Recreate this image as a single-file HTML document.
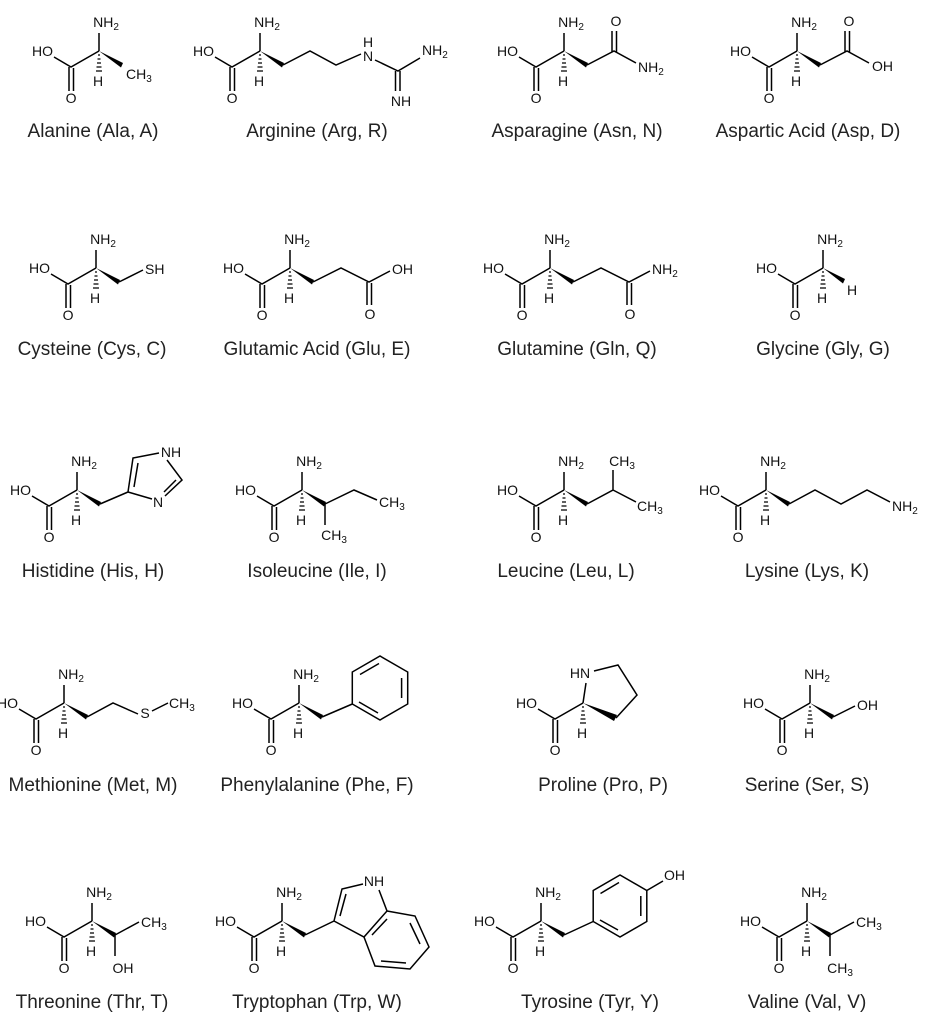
<!DOCTYPE html>
<html><head><meta charset="utf-8"><style>
html,body{margin:0;padding:0;background:#fff;}
svg{display:block;}
text{font-family:"Liberation Sans",sans-serif;font-size:14px;fill:#111;}
.lb{font-size:19px;fill:#222;text-anchor:middle;}
.m{text-anchor:middle;}
.s{font-size:10px;}
path,line{stroke:#000;stroke-width:1.5;fill:none;}
polygon{fill:#000;stroke:none;}
</style></head><body>
<svg width="931" height="1023" viewBox="0 0 931 1023" xmlns="http://www.w3.org/2000/svg">
<defs>
<g id="core">
<path d="M0,0 L-28,16 L-45,6 M-30,16 V40 M-25.5,17 V40"/>
<path d="M-1,4 h2 M-1.5,8 h3 M-2,12 h4 M-2.5,16 h5 M-3,20 h6" style="stroke-width:1.3"/>
</g>
<g id="bb">
<use href="#core"/>
<path d="M0,0 V-18"/>
<polygon points="0,0 24,12 22,16.5"/>
</g>
</defs>

<!-- Row 1 -->
<g transform="translate(99,51)"><use href="#bb"/>
<text x="7" y="-24" class="m">NH<tspan class="s" dy="3">2</tspan></text>
<text x="-46" y="5" text-anchor="end">HO</text><text x="-1" y="35" class="m">H</text><text x="-28" y="52" class="m">O</text>
<text x="27" y="28">CH<tspan class="s" dy="3">3</tspan></text></g>

<g transform="translate(260,51)"><use href="#bb"/>
<text x="7" y="-24" class="m">NH<tspan class="s" dy="3">2</tspan></text>
<text x="-46" y="5" text-anchor="end">HO</text><text x="-1" y="35" class="m">H</text><text x="-28" y="52" class="m">O</text>
<path d="M23,14 L50,0 L76,14 L101,3 M115,9 L138,20 L160,7 M135.5,20 V40 M140,20 V40"/>
<text x="108" y="10" class="m">N</text><text x="108" y="-4" class="m">H</text>
<text x="162" y="4">NH<tspan class="s" dy="3">2</tspan></text>
<text x="141" y="55" class="m">NH</text></g>

<g transform="translate(564,51)"><use href="#bb"/>
<text x="7" y="-24" class="m">NH<tspan class="s" dy="3">2</tspan></text>
<text x="-46" y="5" text-anchor="end">HO</text><text x="-1" y="35" class="m">H</text><text x="-28" y="52" class="m">O</text>
<path d="M23,14 L50,0 L72,12 M48,1 V-20 M52.5,1 V-20"/>
<text x="52" y="-25" class="m">O</text>
<text x="74" y="21">NH<tspan class="s" dy="3">2</tspan></text></g>

<g transform="translate(797,51)"><use href="#bb"/>
<text x="7" y="-24" class="m">NH<tspan class="s" dy="3">2</tspan></text>
<text x="-46" y="5" text-anchor="end">HO</text><text x="-1" y="35" class="m">H</text><text x="-28" y="52" class="m">O</text>
<path d="M23,14 L50,0 L72,12 M48,1 V-20 M52.5,1 V-20"/>
<text x="52" y="-25" class="m">O</text>
<text x="75" y="20">OH</text></g>

<!-- Row 2 -->
<g transform="translate(96,268)"><use href="#bb"/>
<text x="7" y="-24" class="m">NH<tspan class="s" dy="3">2</tspan></text>
<text x="-46" y="5" text-anchor="end">HO</text><text x="-1" y="35" class="m">H</text><text x="-28" y="52" class="m">O</text>
<path d="M23,14 L47,2"/><text x="49" y="6">SH</text></g>

<g transform="translate(290,268)"><use href="#bb"/>
<text x="7" y="-24" class="m">NH<tspan class="s" dy="3">2</tspan></text>
<text x="-46" y="5" text-anchor="end">HO</text><text x="-1" y="35" class="m">H</text><text x="-28" y="52" class="m">O</text>
<path d="M23,14 L51,0 L79,14 L100,3 M77,14 V37 M81.5,15 V37"/>
<text x="80" y="51" class="m">O</text><text x="102" y="6">OH</text></g>

<g transform="translate(550,268)"><use href="#bb"/>
<text x="7" y="-24" class="m">NH<tspan class="s" dy="3">2</tspan></text>
<text x="-46" y="5" text-anchor="end">HO</text><text x="-1" y="35" class="m">H</text><text x="-28" y="52" class="m">O</text>
<path d="M23,14 L51,0 L79,14 L100,3 M77,14 V37 M81.5,15 V37"/>
<text x="80" y="51" class="m">O</text><text x="102" y="6">NH<tspan class="s" dy="3">2</tspan></text></g>

<g transform="translate(823,268)"><use href="#core"/><path d="M0,0 V-18"/>
<polygon points="0,0 22,11 20,15.5"/>
<text x="7" y="-24" class="m">NH<tspan class="s" dy="3">2</tspan></text>
<text x="-46" y="5" text-anchor="end">HO</text><text x="-1" y="35" class="m">H</text><text x="-28" y="52" class="m">O</text>
<text x="24" y="27">H</text></g>

<!-- Row 3 -->
<g transform="translate(77,490)"><use href="#bb"/>
<text x="7" y="-24" class="m">NH<tspan class="s" dy="3">2</tspan></text>
<text x="-46" y="5" text-anchor="end">HO</text><text x="-1" y="35" class="m">H</text><text x="-28" y="52" class="m">O</text>
<path d="M23,14 L51,2 L56,-32 L82,-37 M90,-30 L105,-10 L88,6 M75,9 L51,2 M57,-3 L61,-27 M99,-10 L87,2"/>
<text x="94" y="-33" class="m">NH</text><text x="81" y="17" class="m">N</text></g>

<g transform="translate(302,490)"><use href="#bb"/>
<text x="7" y="-24" class="m">NH<tspan class="s" dy="3">2</tspan></text>
<text x="-46" y="5" text-anchor="end">HO</text><text x="-1" y="35" class="m">H</text><text x="-28" y="52" class="m">O</text>
<path d="M23,14 V35 M23,14 L52,0 L75,10"/>
<text x="32" y="50" class="m">CH<tspan class="s" dy="3">3</tspan></text>
<text x="77" y="17">CH<tspan class="s" dy="3">3</tspan></text></g>

<g transform="translate(564,490)"><use href="#bb"/>
<text x="7" y="-24" class="m">NH<tspan class="s" dy="3">2</tspan></text>
<text x="-46" y="5" text-anchor="end">HO</text><text x="-1" y="35" class="m">H</text><text x="-28" y="52" class="m">O</text>
<path d="M23,14 L49,0 V-20 M49,0 L72,12"/>
<text x="58" y="-24" class="m">CH<tspan class="s" dy="3">3</tspan></text>
<text x="73" y="21">CH<tspan class="s" dy="3">3</tspan></text></g>

<g transform="translate(766,490)"><use href="#bb"/>
<text x="7" y="-24" class="m">NH<tspan class="s" dy="3">2</tspan></text>
<text x="-46" y="5" text-anchor="end">HO</text><text x="-1" y="35" class="m">H</text><text x="-28" y="52" class="m">O</text>
<path d="M23,14 L49,0 L75,14 L101,0 L124,12"/>
<text x="126" y="21">NH<tspan class="s" dy="3">2</tspan></text></g>

<!-- Row 4 -->
<g transform="translate(64,703)"><use href="#bb"/>
<text x="7" y="-24" class="m">NH<tspan class="s" dy="3">2</tspan></text>
<text x="-46" y="5" text-anchor="end">HO</text><text x="-1" y="35" class="m">H</text><text x="-28" y="52" class="m">O</text>
<path d="M23,14 L49,0 L74,11 M88,8 L104,0"/>
<text x="81" y="15" class="m">S</text>
<text x="105" y="5">CH<tspan class="s" dy="3">3</tspan></text></g>

<g transform="translate(299,703)"><use href="#bb"/>
<text x="7" y="-24" class="m">NH<tspan class="s" dy="3">2</tspan></text>
<text x="-46" y="5" text-anchor="end">HO</text><text x="-1" y="35" class="m">H</text><text x="-28" y="52" class="m">O</text>
<path d="M23,14 L53.3,1 M53.3,1 L53.3,-31 L81,-47 L108.7,-31 L108.7,1 L81,17 Z M61,-28.5 L80,-39.5 M102.6,-25 V-5 M79,10 L60,-1"/>
</g>

<g transform="translate(583,703)"><use href="#core"/>
<path d="M0,0 L3,-20 M11,-32 L35,-38 L54,-8 L33,15"/>
<polygon points="0,0 34,12 31,18"/>
<text x="-3" y="-25" class="m">HN</text>
<text x="-46" y="5" text-anchor="end">HO</text><text x="-1" y="35" class="m">H</text><text x="-28" y="52" class="m">O</text></g>

<g transform="translate(810,703)"><use href="#bb"/>
<text x="7" y="-24" class="m">NH<tspan class="s" dy="3">2</tspan></text>
<text x="-46" y="5" text-anchor="end">HO</text><text x="-1" y="35" class="m">H</text><text x="-28" y="52" class="m">O</text>
<path d="M23,14 L45,3"/><text x="47" y="7">OH</text></g>

<!-- Row 5 -->
<g transform="translate(92,921)"><use href="#bb"/>
<text x="7" y="-24" class="m">NH<tspan class="s" dy="3">2</tspan></text>
<text x="-46" y="5" text-anchor="end">HO</text><text x="-1" y="35" class="m">H</text><text x="-28" y="52" class="m">O</text>
<path d="M23,14 L47,1 M23,14 V35"/>
<text x="49" y="6">CH<tspan class="s" dy="3">3</tspan></text>
<text x="31" y="52" class="m">OH</text></g>

<g transform="translate(282,921)"><use href="#bb"/>
<text x="7" y="-24" class="m">NH<tspan class="s" dy="3">2</tspan></text>
<text x="-46" y="5" text-anchor="end">HO</text><text x="-1" y="35" class="m">H</text><text x="-28" y="52" class="m">O</text>
<path d="M23,14 L52,0 L60,-32 L81,-37 M97,-31 L105,-10 L82,16 L52,0 M105,-10 L133,-5 L147,26 L128,48 L93,45 L82,16 M58,-5 L64,-27 M128,2 L138,23 M124,42 L99,40 M90,14 L105,-2"/>
<text x="92" y="-35" class="m">NH</text></g>

<g transform="translate(541,921)"><use href="#bb"/>
<text x="7" y="-24" class="m">NH<tspan class="s" dy="3">2</tspan></text>
<text x="-46" y="5" text-anchor="end">HO</text><text x="-1" y="35" class="m">H</text><text x="-28" y="52" class="m">O</text>
<path d="M23,14 L52.2,0.5 M52.2,0.5 L52.2,-30.5 L79,-46 L105.8,-30.5 L105.8,0.5 L79,16 Z M59.5,-27.5 L78,-38.5 M99.8,-25 V-5 M77,9 L59,-1 M105.8,-30.5 L122,-40"/>
<text x="123" y="-41">OH</text></g>

<g transform="translate(807,921)"><use href="#bb"/>
<text x="7" y="-24" class="m">NH<tspan class="s" dy="3">2</tspan></text>
<text x="-46" y="5" text-anchor="end">HO</text><text x="-1" y="35" class="m">H</text><text x="-28" y="52" class="m">O</text>
<path d="M23,14 L47,1 M23,14 V35"/>
<text x="49" y="6">CH<tspan class="s" dy="3">3</tspan></text>
<text x="33" y="52" class="m">CH<tspan class="s" dy="3">3</tspan></text></g>

<!-- Labels -->
<text class="lb" x="93" y="137">Alanine (Ala, A)</text>
<text class="lb" x="317" y="137">Arginine (Arg, R)</text>
<text class="lb" x="577" y="137">Asparagine (Asn, N)</text>
<text class="lb" x="808" y="137">Aspartic Acid (Asp, D)</text>
<text class="lb" x="92" y="355">Cysteine (Cys, C)</text>
<text class="lb" x="317" y="355">Glutamic Acid (Glu, E)</text>
<text class="lb" x="577" y="355">Glutamine (Gln, Q)</text>
<text class="lb" x="823" y="355">Glycine (Gly, G)</text>
<text class="lb" x="93" y="577">Histidine (His, H)</text>
<text class="lb" x="317" y="577">Isoleucine (Ile, I)</text>
<text class="lb" x="566" y="577">Leucine (Leu, L)</text>
<text class="lb" x="807" y="577">Lysine (Lys, K)</text>
<text class="lb" x="93" y="791">Methionine (Met, M)</text>
<text class="lb" x="317" y="791">Phenylalanine (Phe, F)</text>
<text class="lb" x="603" y="791">Proline (Pro, P)</text>
<text class="lb" x="807" y="791">Serine (Ser, S)</text>
<text class="lb" x="92" y="1008">Threonine (Thr, T)</text>
<text class="lb" x="317" y="1008">Tryptophan (Trp, W)</text>
<text class="lb" x="590" y="1008">Tyrosine (Tyr, Y)</text>
<text class="lb" x="807" y="1008">Valine (Val, V)</text>
</svg>
</body></html>
